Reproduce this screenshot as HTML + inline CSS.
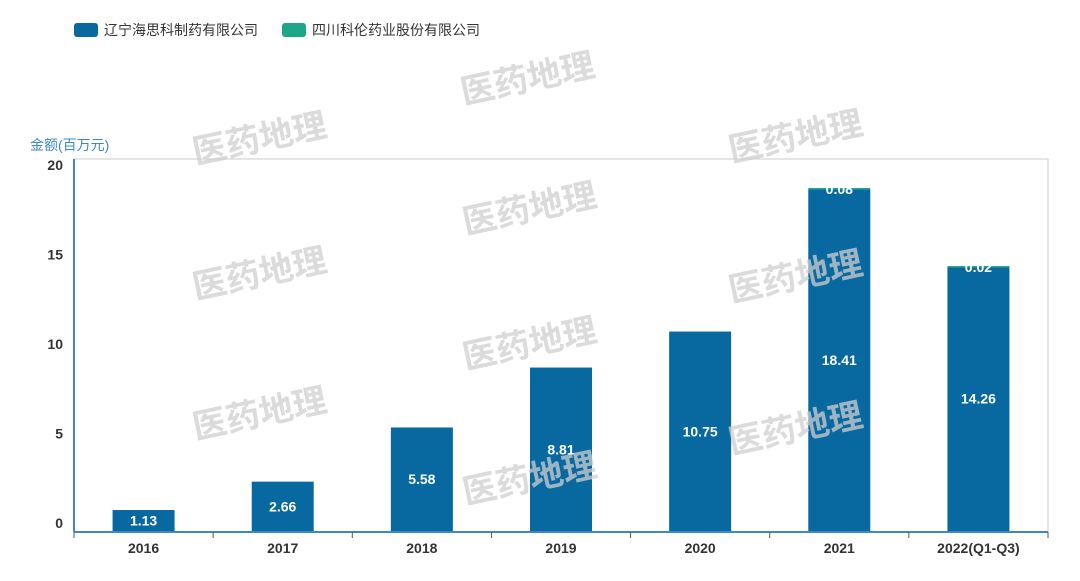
<!DOCTYPE html>
<html><head><meta charset="utf-8"><style>
body{margin:0;background:#fff;width:1080px;height:576px;overflow:hidden}
svg text{font-family:"Liberation Sans","Noto Sans CJK SC",sans-serif}
</style></head><body>
<svg width="1080" height="576" xmlns="http://www.w3.org/2000/svg">
<g>
<g><rect x="74" y="23" width="24" height="14" rx="3" fill="#0868a0"/><text x="104" y="35" font-size="14" fill="#333">辽宁海思科制药有限公司</text></g>
<g><rect x="282" y="23" width="24" height="14" rx="3" fill="#1ea68a"/><text x="312" y="35" font-size="14" fill="#333">四川科伦药业股份有限公司</text></g>
</g>
<text x="30" y="150" font-size="14" fill="#3f88c5">金额(百万元)</text>
<rect x="74" y="159" width="974" height="373" fill="none" stroke="#ccc"/>
<g id="bars"></g>
<g id="axes"></g>
<g id="wm" opacity="0.75"></g>
</svg>
<script>
const categories=["2016","2017","2018","2019","2020","2021","2022(Q1-Q3)"];
const liaoning=[1.13,2.66,5.58,8.81,10.75,18.41,14.26];
const sichuan=[0,0,0,0,0,0.08,0.02];
const yTicks=[0,5,10,15,20];
const NS="http://www.w3.org/2000/svg";
const L=74,R=1048,T=159,B=531,yMax=20.05;
const y=v=>B-(v/yMax)*(B-T);
const yl=v=>523-v*17.9;
const bw=(R-L)/categories.length;
const xc=i=>L+bw*(i+0.5);
function mk(tag,attrs,parent,txt){const e=document.createElementNS(NS,tag);for(const k in attrs)e.setAttribute(k,attrs[k]);if(txt!==undefined)e.textContent=txt;parent.appendChild(e);return e;}
const wm=document.getElementById('wm');
[[530,90],[262,150],[798,148],[532,220],[262,285],[798,288],[532,355],[262,425],[798,440],[532,490]].forEach(p=>{
 const t=mk('text',{x:p[0],y:p[1],'font-size':34,'font-weight':'bold',fill:'#cfcfcf','text-anchor':'middle',transform:`rotate(-12 ${p[0]} ${p[1]})`},wm,'医药地理');
 
 
});
const bars=document.getElementById('bars');
categories.forEach((c,i)=>{
 const x=xc(i)-31;
 const r=mk('rect',{x:x,y:y(liaoning[i]),width:62,height:B-y(liaoning[i]),fill:'#0868a0'},bars);
 
 
 const lt=mk('text',{x:xc(i),y:(y(liaoning[i])+B)/2+5,'font-size':14,'font-weight':'bold',fill:'#fff','text-anchor':'middle'},bars,liaoning[i].toFixed(2));
 
 
 if(sichuan[i]>0){
  const top=y(liaoning[i]+sichuan[i]);
  const s=mk('rect',{x:x,y:top,width:62,height:Math.max(1.5,y(liaoning[i])-top),fill:'#1ea68a'},bars);
  
  
  const st=mk('text',{x:xc(i),y:top+6,'font-size':14,'font-weight':'bold',fill:'#fff','text-anchor':'middle'},bars,sichuan[i].toFixed(2));
  
  
 }
});
const ax=document.getElementById('axes');
mk('line',{x1:L,y1:T,x2:L,y2:B+1,stroke:'#3f88c5','stroke-width':2},ax);
mk('line',{x1:L,y1:B+1,x2:R,y2:B+1,stroke:'#3f88c5','stroke-width':2},ax);
yTicks.forEach(v=>{
 const t=mk('text',{x:63,y:yl(v)+5,'font-size':14,'font-weight':'bold',fill:'#333','text-anchor':'end'},ax,String(v));
 
 
});
categories.forEach((c,i)=>{
 mk('line',{x1:L+bw*i,y1:B+1,x2:L+bw*i,y2:B+7,stroke:'#555'},ax);
 const t=mk('text',{x:xc(i),y:553,'font-size':14,'font-weight':'bold',fill:'#333','text-anchor':'middle'},ax,c);
 
 
});
mk('line',{x1:R,y1:B+1,x2:R,y2:B+7,stroke:'#555'},ax);
</script>
</body></html>
